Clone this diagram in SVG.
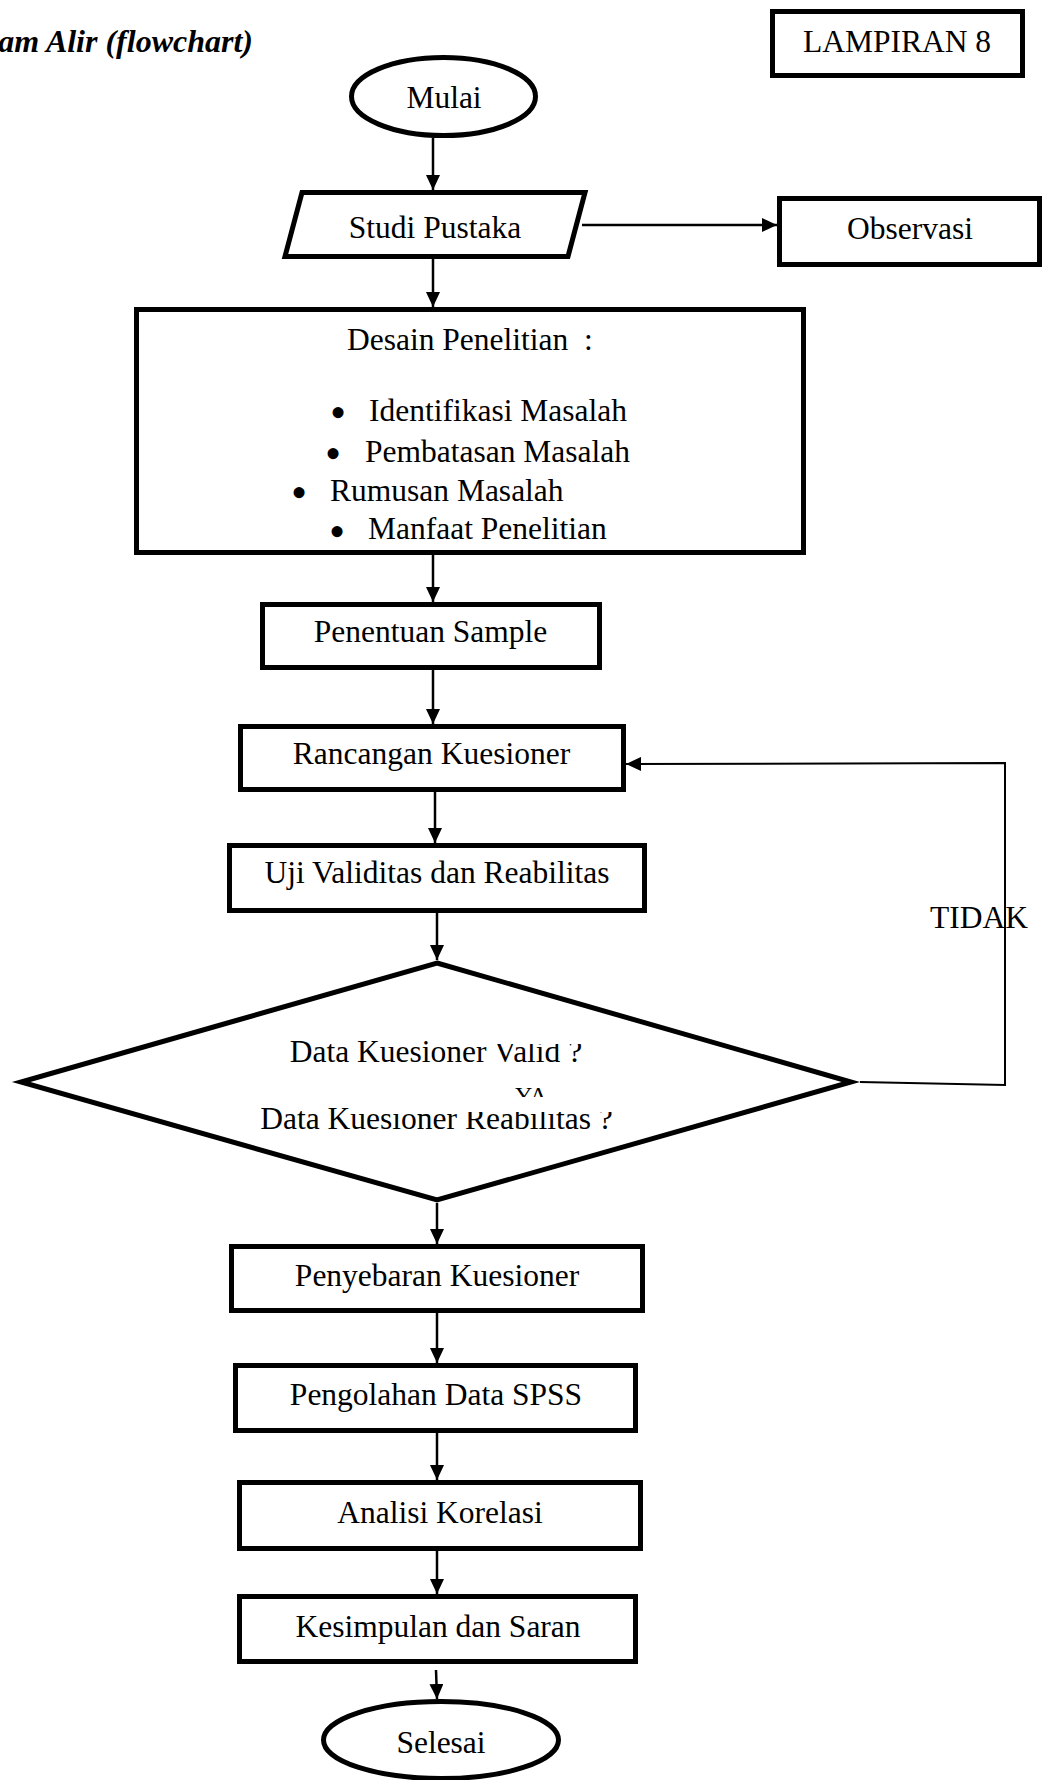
<svg xmlns="http://www.w3.org/2000/svg" width="1043" height="1780" viewBox="0 0 1043 1780">
<style>
  .node { fill: #ffffff; stroke: #000000; stroke-width: 5; stroke-linejoin: miter; stroke-miterlimit: 10; }
  .t { font-family: "Liberation Serif", "Times New Roman", serif; font-size: 31.5px; fill: #000000; }
  .c { text-anchor: middle; }
  .bullet { font-family: "Liberation Serif", "Times New Roman", serif; font-size: 46px; fill: #000000; }
  .title { font-family: "Liberation Serif", "Times New Roman", serif; font-size: 32px; font-weight: bold; font-style: italic; fill: #000000; text-anchor: end; }
  .conn { fill: none; stroke: #000000; stroke-width: 2.5; }
  .thin { fill: none; stroke: #000000; stroke-width: 2; }
</style>
<defs>
  <marker id="arrow" viewBox="0 0 15 14" refX="15" refY="7" markerWidth="15" markerHeight="14" markerUnits="userSpaceOnUse" orient="auto">
    <path d="M0,0 L15,7 L0,14 z" fill="#000000"/>
  </marker>
  <clipPath id="clipL1">
    <rect x="0" y="1000" width="463" height="100"/>
    <rect x="463" y="1044" width="300" height="60"/>
  </clipPath>
  <clipPath id="clipL2">
    <rect x="0" y="1090" width="358" height="60"/>
    <rect x="358" y="1112" width="400" height="40"/>
  </clipPath>
  <clipPath id="clipYA">
    <rect x="500" y="1080" width="60" height="17"/>
  </clipPath>
</defs>
<rect width="1043" height="1780" fill="#ffffff"/>

<text class="title" x="253" y="52">am Alir (flowchart)</text>

<g id="lampiran">
  <rect class="node" x="772.5" y="11.5" width="250" height="64"/>
  <text class="t c" x="897" y="52">LAMPIRAN 8</text>
</g>

<g id="connectors">
  <line class="conn" x1="433" y1="138" x2="433" y2="190" marker-end="url(#arrow)"/>
  <line class="conn" x1="582" y1="225" x2="777" y2="225" marker-end="url(#arrow)"/>
  <line class="conn" x1="433" y1="259" x2="433" y2="307" marker-end="url(#arrow)"/>
  <line class="conn" x1="433" y1="555" x2="433" y2="602" marker-end="url(#arrow)"/>
  <line class="conn" x1="433" y1="670" x2="433" y2="724" marker-end="url(#arrow)"/>
  <line class="conn" x1="435" y1="792" x2="435" y2="843" marker-end="url(#arrow)"/>
  <line class="conn" x1="437" y1="913" x2="437" y2="960" marker-end="url(#arrow)"/>
  <line class="conn" x1="437" y1="1203" x2="437" y2="1244" marker-end="url(#arrow)"/>
  <line class="conn" x1="437" y1="1313" x2="437" y2="1363" marker-end="url(#arrow)"/>
  <line class="conn" x1="437" y1="1433" x2="437" y2="1480" marker-end="url(#arrow)"/>
  <line class="conn" x1="437" y1="1551" x2="437" y2="1594" marker-end="url(#arrow)"/>
  <line class="conn" x1="436" y1="1670" x2="437" y2="1699" marker-end="url(#arrow)"/>
  <polyline class="thin" points="860,1082 1005,1085 1005,763 626,764" marker-end="url(#arrow)"/>
  <text class="t" x="930" y="928">TIDAK</text>
</g>

<g id="mulai">
  <ellipse class="node" cx="443.5" cy="96.5" rx="92" ry="39"/>
  <text class="t c" x="444" y="108">Mulai</text>
</g>

<g id="studi-pustaka">
  <polygon class="node" points="302,192.5 585,192.5 568,256.5 285,256.5"/>
  <text class="t c" x="435" y="238">Studi Pustaka</text>
</g>

<g id="observasi">
  <rect class="node" x="779.5" y="198.5" width="260" height="66"/>
  <text class="t c" x="910" y="239">Observasi</text>
</g>

<g id="desain">
  <rect class="node" x="136.5" y="309.5" width="667" height="243"/>
  <text class="t" x="347" y="350" xml:space="preserve">Desain Penelitian  :</text>
  <text class="bullet" x="330" y="427.5">•</text>
  <text class="t" x="369" y="421">Identifikasi Masalah</text>
  <text class="bullet" x="325" y="468.5">•</text>
  <text class="t" x="365" y="462">Pembatasan Masalah</text>
  <text class="bullet" x="291" y="507.5">•</text>
  <text class="t" x="330" y="501">Rumusan Masalah</text>
  <text class="bullet" x="329" y="546.5">•</text>
  <text class="t" x="368" y="539">Manfaat Penelitian</text>
</g>

<g id="penentuan">
  <rect class="node" x="262.5" y="604.5" width="337" height="63"/>
  <text class="t c" x="430.5" y="642">Penentuan Sample</text>
</g>

<g id="rancangan">
  <rect class="node" x="240.5" y="726.5" width="383" height="63"/>
  <text class="t c" x="431.5" y="764">Rancangan Kuesioner</text>
</g>

<g id="uji">
  <rect class="node" x="229.5" y="845.5" width="415" height="65"/>
  <text class="t c" x="437" y="883">Uji Validitas dan Reabilitas</text>
</g>

<g id="keputusan">
  <polygon class="node" points="437,963 851,1082 437,1200 21,1082"/>
  <text class="t c" x="436" y="1062" clip-path="url(#clipL1)">Data Kuesioner Valid ?</text>
  <text class="t" x="515" y="1103" style="font-size:24px" clip-path="url(#clipYA)">YA</text>
  <text class="t c" x="436.5" y="1129" clip-path="url(#clipL2)">Data Kuesioner Reabilitas ?</text>
</g>

<g id="penyebaran">
  <rect class="node" x="231.5" y="1246.5" width="411" height="64"/>
  <text class="t c" x="437" y="1286">Penyebaran Kuesioner</text>
</g>

<g id="pengolahan">
  <rect class="node" x="235.5" y="1365.5" width="400" height="65"/>
  <text class="t c" x="436" y="1405">Pengolahan Data SPSS</text>
</g>

<g id="analisi">
  <rect class="node" x="239.5" y="1482.5" width="401" height="66"/>
  <text class="t c" x="440" y="1523">Analisi Korelasi</text>
</g>

<g id="kesimpulan">
  <rect class="node" x="239.5" y="1596.5" width="396" height="65"/>
  <text class="t c" x="438" y="1637">Kesimpulan dan Saran</text>
</g>

<g id="selesai">
  <ellipse class="node" cx="441" cy="1740" rx="117.5" ry="38.5"/>
  <text class="t c" x="441" y="1753">Selesai</text>
</g>
</svg>
